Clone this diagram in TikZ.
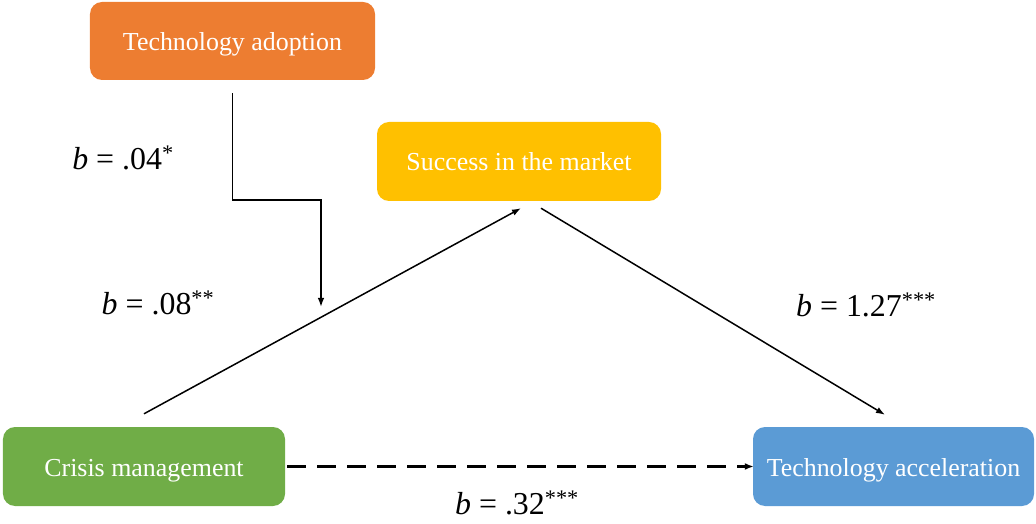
\documentclass[tikz,border=0pt]{standalone}
\usepackage{fontspec}
\setmainfont{Liberation Serif}
\usetikzlibrary{arrows.meta,calc}
\definecolor{orng}{HTML}{ED7D31}
\definecolor{yell}{HTML}{FFC000}
\definecolor{grn}{HTML}{70AD47}
\definecolor{blu}{HTML}{5B9BD5}
\begin{document}
\begin{tikzpicture}[x=1bp,y=-1bp,
  box/.style={rectangle,rounded corners=12bp,draw=none,text=white,
    minimum width=283bp,minimum height=79bp,inner sep=0pt,
    text height=19bp,text depth=0pt,
    font=\fontsize{26}{30}\selectfont},
  arr/.style={line width=1.5bp,-{Latex[length=9bp,width=6.5bp]}},
  dsh/.style={line width=3bp,dash pattern=on 19bp off 11bp,-{Latex[length=9bp,width=7bp]}},
  lbl/.style={font=\fontsize{32}{36}\selectfont,inner sep=0pt}]
\useasboundingbox (0,0) rectangle (1036,524);
\node[box,fill=orng,minimum width=285bp,minimum height=78bp] (adopt) at (232.5,41) {Technology adoption};
\node[box,fill=yell,minimum width=284bp] (succ) at (519,161.5) {Success in the market};
\node[box,fill=grn,minimum width=282bp] (crisis) at (144,466.5) {Crisis management};
\node[box,fill=blu,minimum width=281bp] (accel) at (893.5,466.5) {Technology acceleration};
\coordinate (mod) at (321,307);
\draw[arr] ([yshift=-13bp]adopt.south) -- ++(0,107) -| (mod);
\draw[arr] ([yshift=13bp]crisis.north) -- ([xshift=2bp,yshift=-7bp]succ.south);
\draw[arr] ([xshift=22bp,yshift=-7bp]succ.south) -- ([xshift=-8.5bp,yshift=12bp]accel.north);
\draw[dsh] ([xshift=2bp]crisis.east) -- ([xshift=1bp]accel.west);
\node[lbl] (l1) at (123,158) {\textit{b} = .04\textsuperscript{*}};
\node[lbl] (l2) at (158,303) {\textit{b} = .08\textsuperscript{**}};
\node[lbl] (l3) at (866,305) {\textit{b} = 1.27\textsuperscript{***}};
\node[lbl] (l4) at (517,503) {\textit{b} = .32\textsuperscript{***}};
\end{tikzpicture}
\end{document}
